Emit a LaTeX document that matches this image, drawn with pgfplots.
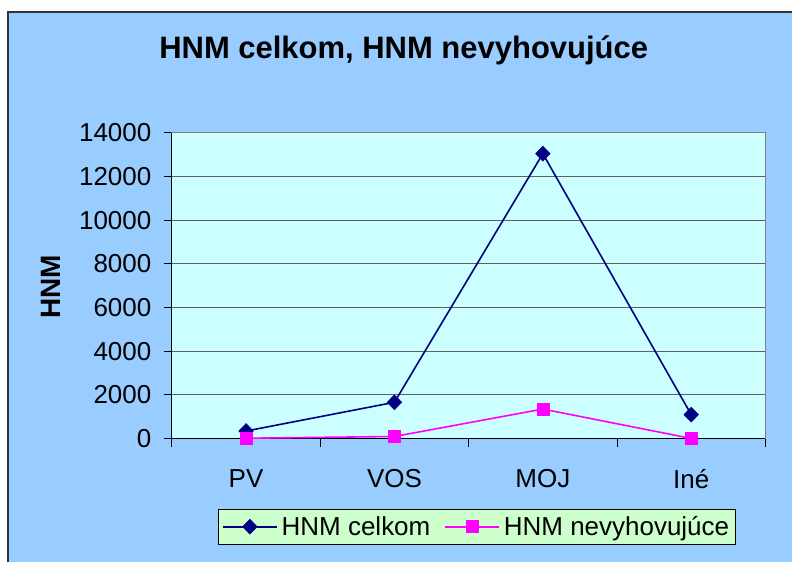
\documentclass[border=0pt]{standalone}
\usepackage{fontspec}
\setmainfont{Liberation Sans}
\usepackage{pgfplots}
\pgfplotsset{compat=1.18}
\definecolor{bgblue}{HTML}{99CCFF}
\definecolor{plotbg}{HTML}{CCFFFF}
\definecolor{legbg}{HTML}{CCFFCC}
\definecolor{navy}{HTML}{000080}
\definecolor{mag}{HTML}{FF00FF}
\definecolor{gridc}{HTML}{606060}
\begin{document}
\begin{tikzpicture}[x=1pt,y=1pt]
\fill[white] (0,0) rectangle (793,562);
\fill[bgblue] (8,0) rectangle (793,550);
\draw[black!80, line width=1.2pt] (8,0) -- (8,550) -- (793,550);
\node[anchor=base, font=\fontsize{31}{36}\selectfont\bfseries] at (404,503) {HNM celkom, HNM nevyhovujúce};
\begin{axis}[
  at={(172pt,123pt)}, anchor=south west,
  width=594pt, height=306pt, scale only axis,
  xmin=-0.5, xmax=3.5, ymin=0, ymax=14000,
  xtick={-0.5,0.5,1.5,2.5,3.5},
  x tick label as interval,
  xticklabels={PV,VOS,MOJ,Iné},
  ytick={0,2000,...,14000},
  scaled y ticks=false,
  tick align=outside, xtick pos=bottom, ytick pos=left,
  major tick length=8pt,
  tick style={black, line width=1pt},
  ymajorgrids, grid style={gridc, line width=1pt},
  axis background/.style={fill=plotbg},
  axis line style={draw=gray, line width=1pt},
  ticklabel style={font=\fontsize{26}{31}\selectfont},
  xticklabel style={yshift=-19pt},
  yticklabel style={xshift=-9pt},
  /pgf/number format/assume math mode=true,
  /pgf/number format/set thousands separator={},
  ylabel={HNM},
  ylabel style={font=\fontsize{28}{32}\selectfont\bfseries, at={(axis description cs:-0.204,0.497)}, anchor=center},
  clip=false,
  legend columns=2,
  legend cell align=left,
  legend style={at={(axis description cs:0.5135,-0.288)}, anchor=center, fill=legbg, draw=black, line width=0.8pt, font=\fontsize{26}{31}\selectfont, inner xsep=4pt, inner ysep=5pt, /tikz/every even column/.append style={column sep=12pt}, /tikz/every odd column/.append style={column sep=2pt}},
  legend image code/.code={\draw[mark repeat=2,mark phase=2,#1] plot coordinates {(0pt,0pt) (27pt,0pt) (54pt,0pt)};},
]
\draw[black, line width=1.2pt] (rel axis cs:0,1) -- (rel axis cs:0,0) -- (rel axis cs:1,0);
\addplot[navy, line width=1.6pt, mark=diamond*, mark size=7.5pt, mark options={xscale=1.3, solid, line width=0.5pt}] coordinates {(0,350) (1,1665) (2,13050) (3,1100)};
\addlegendentry{HNM celkom}
\addplot[mag, line width=1.6pt, mark=square*, mark size=6pt, mark options={solid, line width=0.5pt}] coordinates {(0,20) (1,100) (2,1355) (3,10)};
\addlegendentry{HNM nevyhovujúce}
\end{axis}
\end{tikzpicture}
\end{document}
